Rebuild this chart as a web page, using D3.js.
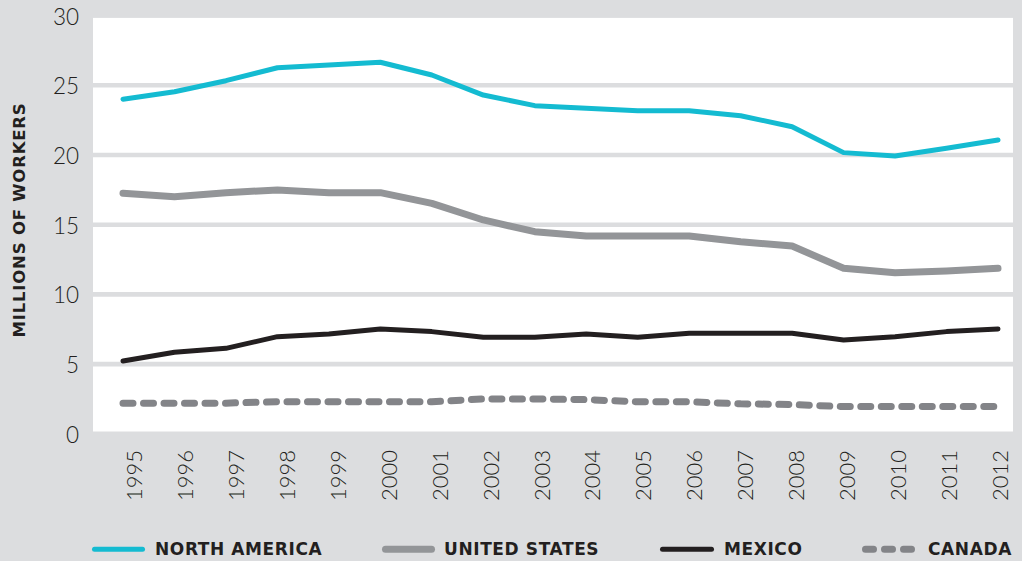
<!DOCTYPE html>
<html>
<head>
<meta charset="utf-8">
<script src="https://cdn.jsdelivr.net/npm/d3@7"></script>
<style>
  html, body { margin: 0; padding: 0; background: #dcdddf; }
  svg { display: block; }
</style>
</head>
<body>
<svg id="chart" width="1022" height="561"></svg>
<script>
const years = ["1995","1996","1997","1998","1999","2000","2001","2002","2003","2004","2005","2006","2007","2008","2009","2010","2011","2012"];
const northAmerica = [24.0, 24.54, 25.33, 26.26, 26.46, 26.65, 25.74, 24.3, 23.54, 23.35, 23.18, 23.18, 22.82, 22.03, 20.17, 19.93, 20.48, 21.08];
const unitedStates = [17.25, 17.01, 17.3, 17.49, 17.3, 17.3, 16.53, 15.34, 14.5, 14.19, 14.19, 14.19, 13.78, 13.47, 11.87, 11.56, 11.68, 11.87];
const mexico = [5.22, 5.85, 6.13, 6.97, 7.16, 7.52, 7.33, 6.92, 6.92, 7.16, 6.92, 7.21, 7.21, 7.21, 6.73, 6.97, 7.33, 7.52];
const canada = [2.2, 2.2, 2.2, 2.3, 2.3, 2.3, 2.3, 2.5, 2.5, 2.45, 2.3, 2.3, 2.15, 2.1, 1.95, 1.95, 1.95, 1.95];
const yTicks = [0, 5, 10, 15, 20, 25, 30];
const seriesNames = ["NORTH AMERICA", "UNITED STATES", "MEXICO", "CANADA"];
const yTitle = "MILLIONS OF WORKERS";

const series = [
  { name: seriesNames[0], values: northAmerica, color: "#14bbd1", width: 5, dash: null },
  { name: seriesNames[1], values: unitedStates, color: "#939598", width: 7, dash: null },
  { name: seriesNames[2], values: mexico, color: "#231f20", width: 5, dash: null },
  { name: seriesNames[3], values: canada, color: "#838488", width: 7, dash: "10,10.5" }
];

const svg = d3.select("#chart");
const bg = "#dcdddf";
const textColor = "#231f20";

const x = d3.scalePoint().domain(years).range([123, 998]);
const xLabel = d3.scalePoint().domain(years).range([141.5, 1007.5]);
const y = d3.scaleLinear().domain([0, 30]).range([433.8, 15.6]);

// plot area
const plotLeft = 93, plotRight = 1013;
svg.append("rect")
  .attr("x", plotLeft).attr("y", y(30) + 2.3)
  .attr("width", plotRight - plotLeft)
  .attr("height", y(0) - y(30) - 4.6)
  .attr("fill", "#ffffff");

// gridlines
svg.append("g").selectAll("line")
  .data(yTicks.filter(t => t > 0 && t < 30))
  .join("line")
  .attr("x1", plotLeft).attr("x2", plotRight)
  .attr("y1", d => y(d)).attr("y2", d => y(d))
  .attr("stroke", bg).attr("stroke-width", 4.6);

// y axis
const yAxis = d3.axisLeft(y).tickValues(yTicks).tickSize(0).tickPadding(0);
const gy = svg.append("g").attr("transform", "translate(79,0)").call(yAxis);
gy.select(".domain").remove();
gy.selectAll("text")
  .attr("fill", textColor)
  .style("font-family", "Lato, 'Open Sans', sans-serif")
  .style("font-weight", 300)
  .style("font-size", "22.5px")
  .attr("dy", "0.38em");

// x axis labels
const xAxis = d3.axisBottom(xLabel).tickSize(0).tickPadding(0);
const gx = svg.append("g").attr("transform", "translate(0,450)").call(xAxis);
gx.select(".domain").remove();
gx.selectAll("text")
  .attr("fill", textColor)
  .style("font-family", "Lato, 'Open Sans', sans-serif")
  .style("font-weight", 300)
  .style("font-size", "22px")
  .attr("text-anchor", "end")
  .attr("dy", null)
  .attr("y", 0)
  .attr("transform", "rotate(-90)");

// y title
svg.append("text")
  .attr("transform", "translate(24.5,220) rotate(-90)")
  .attr("text-anchor", "middle")
  .attr("fill", textColor)
  .style("font-family", "'DejaVu Sans', sans-serif")
  .style("font-weight", 700)
  .style("font-size", "16.5px")
  .style("letter-spacing", "0.8px")
  .text(yTitle);

// lines
const line = d3.line()
  .x((d, i) => x(years[i]))
  .y(d => y(d));

svg.append("g").selectAll("path")
  .data(series.slice().reverse())
  .join("path")
  .attr("d", d => line(d.values))
  .attr("fill", "none")
  .attr("stroke", d => d.color)
  .attr("stroke-width", d => d.width)
  .attr("stroke-linecap", "round")
  .attr("stroke-linejoin", "round")
  .attr("stroke-dasharray", d => d.dash);

// legend
const legendLineX = [94.5, 385.5, 662.5, 865.5];
const legendLen = [48, 46, 49, 46];
const legendTextX = [155, 444, 724, 928];
const legendY = 549.3;
const lg = svg.append("g").selectAll("g").data(series).join("g");
lg.append("line")
  .attr("x1", (d, i) => legendLineX[i]).attr("x2", (d, i) => legendLineX[i] + legendLen[i])
  .attr("y1", legendY).attr("y2", legendY)
  .attr("stroke", d => d.color)
  .attr("stroke-width", d => d.width)
  .attr("stroke-linecap", "round")
  .attr("stroke-dasharray", d => d.dash ? "8,11" : null);
lg.append("text")
  .attr("x", (d, i) => legendTextX[i])
  .attr("y", legendY)
  .attr("dy", "0.36em")
  .attr("fill", textColor)
  .style("font-family", "'DejaVu Sans', sans-serif")
  .style("font-weight", 700)
  .style("font-size", "17px")
  .style("letter-spacing", "0.6px")
  .text(d => d.name);
</script>
</body>
</html>
